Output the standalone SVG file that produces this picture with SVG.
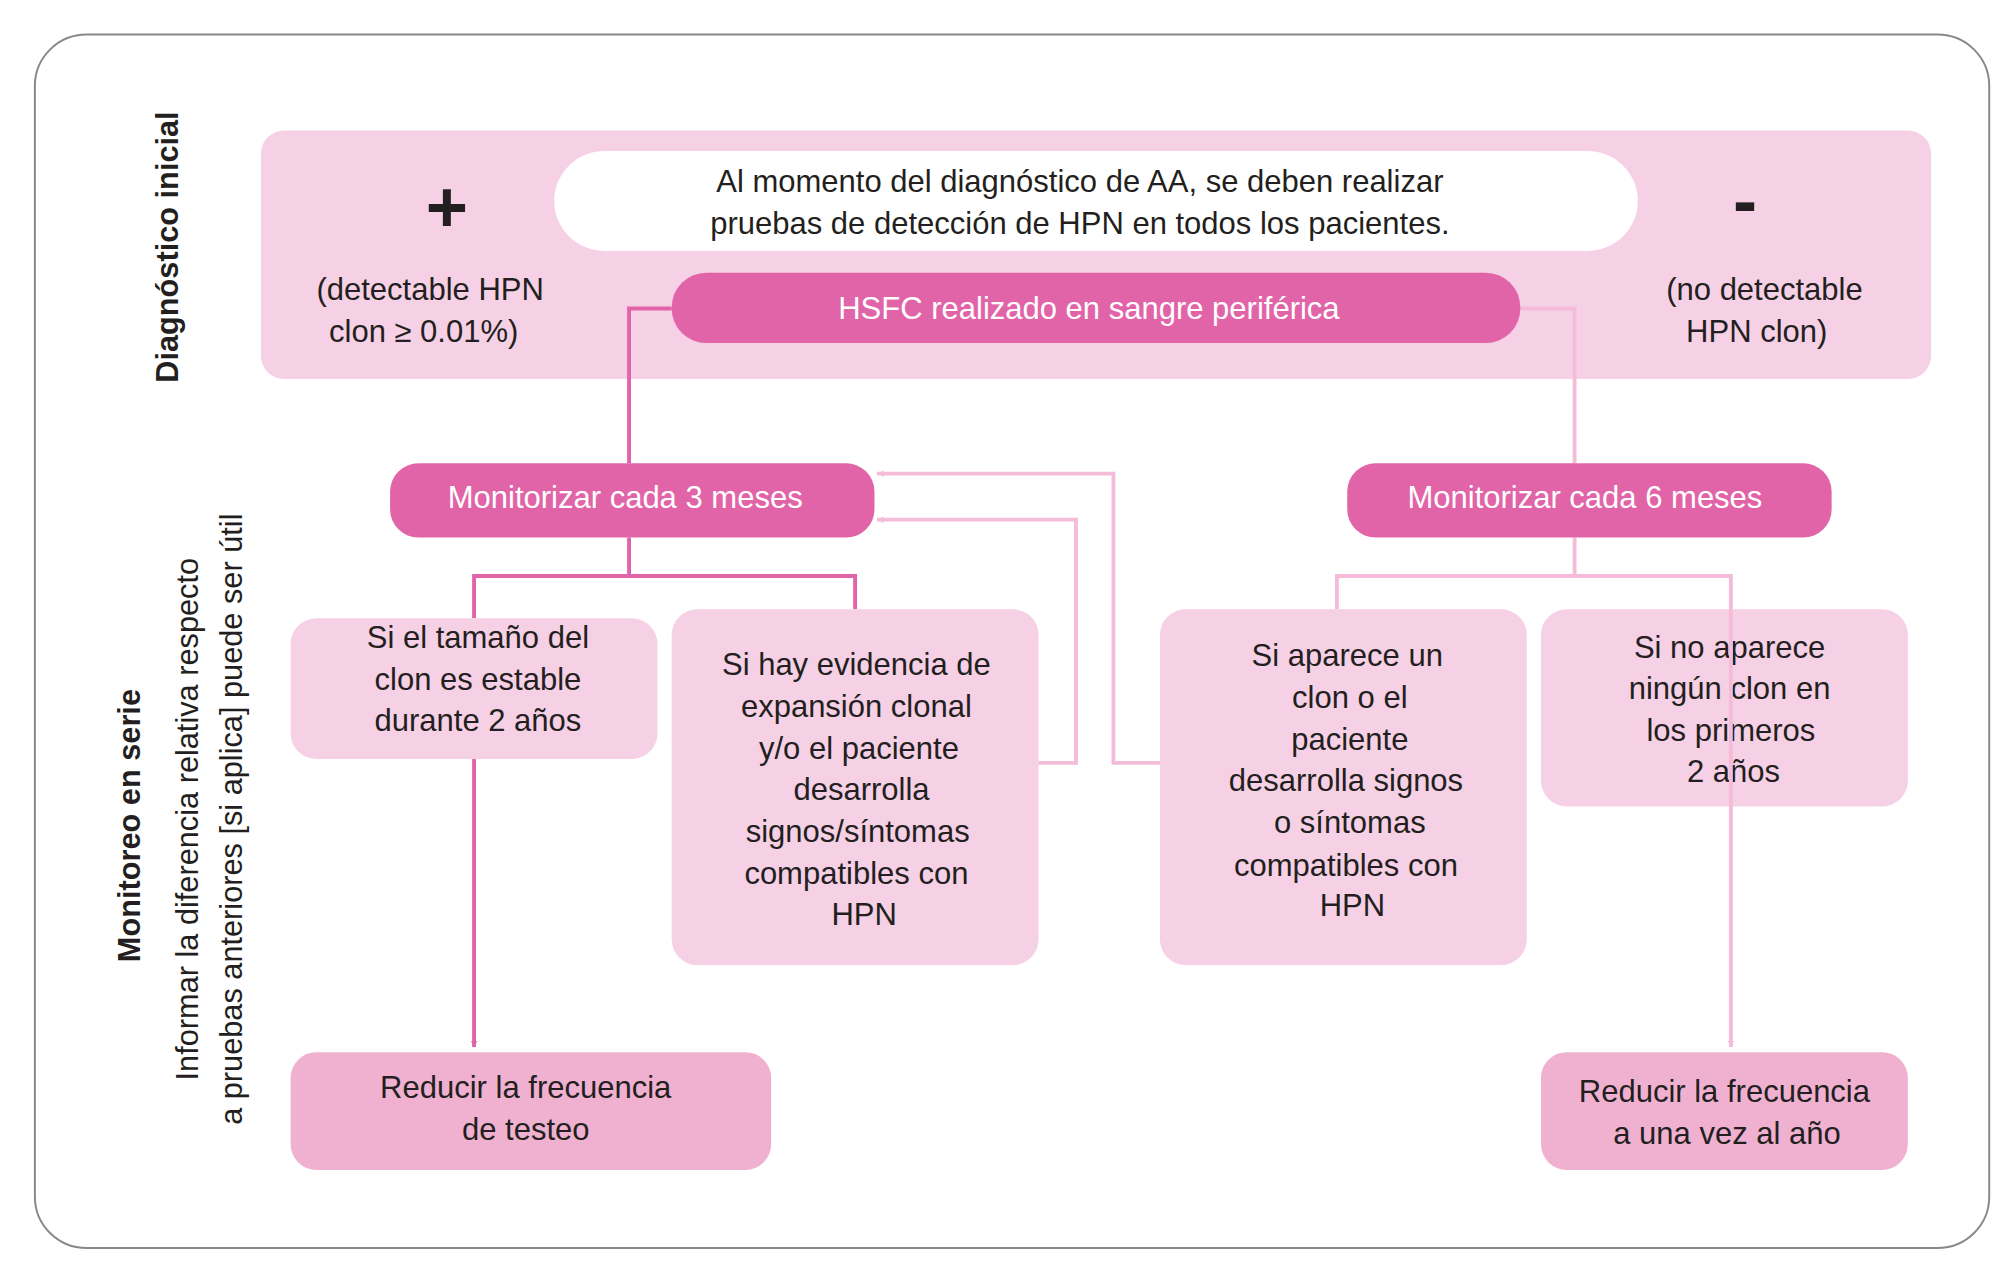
<svg xmlns="http://www.w3.org/2000/svg" width="2015" height="1280" viewBox="0 0 2015 1280">
<defs>
<style>
text{font-family:"Liberation Sans","Noto Sans",sans-serif;font-size:24px;fill:#231f20;text-anchor:middle}
.w{fill:#fff}
.b{font-weight:bold}
.box{fill:#f6d0e5}
.dark{fill:#e264a8}
.bot{fill:#f0b1d1}
.ld{fill:none;stroke:#e264a8;stroke-width:3}
.ll{fill:none;stroke:#f4bcd9;stroke-width:3}
</style>
<marker id="ad" viewBox="0 0 10 10" refX="10" refY="5" markerWidth="5" markerHeight="5" orient="auto" markerUnits="userSpaceOnUse"><path d="M0,0L10,5L0,10z" fill="#e264a8"/></marker>
<marker id="al" viewBox="0 0 10 10" refX="10" refY="5" markerWidth="5" markerHeight="5" orient="auto" markerUnits="userSpaceOnUse"><path d="M0,0L10,5L0,10z" fill="#f4bcd9"/></marker>
</defs>
<rect width="2015" height="1280" fill="#fff"/>
<g transform="scale(1.2917,1.28)">
<rect x="27" y="27" width="1513" height="948" rx="40" fill="#fff" stroke="#888" stroke-width="1.5"/>
<g id="labels">
<text class="b" transform="translate(138,193) rotate(-90)">Diagnóstico inicial</text>
<text class="b" transform="translate(108,645) rotate(-90)">Monitoreo en serie</text>
<text transform="translate(153,640) rotate(-90)">Informar la diferencia relativa respecto</text>
<text transform="translate(187,640) rotate(-90)">a pruebas anteriores [si aplica] puede ser útil</text>
</g>
<g id="top">
<rect class="box" x="202" y="102" width="1293" height="194" rx="18"/>
<rect x="429" y="118" width="839" height="78" rx="39" fill="#fff"/>
<text x="836" y="150">Al momento del diagnóstico de AA, se deben realizar</text>
<text x="836" y="183">pruebas de detección de HPN en todos los pacientes.</text>
<text class="b" x="346" y="181" style="font-size:56px">+</text>
<text class="b" x="1351" y="176" style="font-size:56px">-</text>
<text x="333" y="234">(detectable HPN</text>
<text x="328" y="267">clon ≥ 0.01%)</text>
<text x="1366" y="234">(no detectable</text>
<text x="1360" y="267">HPN clon)</text>
</g>
<g id="connectors">
<path class="ld" d="M520,241H487V362"/>
<path class="ll" d="M1177,241H1219V362"/>
<path class="ld" d="M487,420V450M367,483V450H662V476"/>
<path class="ld" d="M367,593V818" marker-end="url(#ad)"/>
<path class="ll" d="M804,596H833V406H679" marker-end="url(#al)"/>
<path class="ll" d="M898,596H862V370H679" marker-end="url(#al)"/>
<path class="ll" d="M1219,420V450M1035,476V450H1340V476"/>
</g>
<g id="hsfc"><rect class="dark" x="520" y="213" width="657" height="55" rx="27"/><text class="w" x="843" y="249">HSFC realizado en sangre periférica</text></g>
<g id="m3"><rect class="dark" x="302" y="362" width="375" height="58" rx="22"/><text class="w" x="484" y="397">Monitorizar cada 3 meses</text></g>
<g id="m6"><rect class="dark" x="1043" y="362" width="375" height="58" rx="22"/><text class="w" x="1227" y="397">Monitorizar cada 6 meses</text></g>
<g id="a"><rect class="box" x="225" y="483" width="284" height="110" rx="20"/>
<text x="370" y="506">Si el tamaño del</text><text x="370" y="539">clon es estable</text><text x="370" y="571">durante 2 años</text></g>
<g id="b"><rect class="box" x="520" y="476" width="284" height="278" rx="20"/>
<text x="663" y="527">Si hay evidencia de</text><text x="663" y="560">expansión clonal</text><text x="665" y="593">y/o el paciente</text><text x="667" y="625">desarrolla</text><text x="664" y="658">signos/síntomas</text><text x="663" y="691">compatibles con</text><text x="669" y="723">HPN</text></g>
<g id="c"><rect class="box" x="898" y="476" width="284" height="278" rx="20"/>
<text x="1043" y="520">Si aparece un</text><text x="1045" y="553">clon o el</text><text x="1045" y="586">paciente</text><text x="1042" y="618">desarrolla signos</text><text x="1045" y="651">o síntomas</text><text x="1042" y="684">compatibles con</text><text x="1047" y="716">HPN</text></g>
<g id="d"><rect class="box" x="1193" y="476" width="284" height="154" rx="20"/>
<text x="1339" y="514">Si no aparece</text><text x="1339" y="546">ningún clon en</text><text x="1340" y="579">los primeros</text><text x="1342" y="611">2 años</text></g>
<path class="ll" d="M1340,476V818" marker-end="url(#al)"/>
<g id="ra"><rect class="bot" x="225" y="822" width="372" height="92" rx="20"/><text x="407" y="858">Reducir la frecuencia</text><text x="407" y="891">de testeo</text></g>
<g id="rd"><rect class="bot" x="1193" y="822" width="284" height="92" rx="20"/><text x="1335" y="861">Reducir la frecuencia</text><text x="1337" y="894">a una vez al año</text></g>
</g>
</svg>
